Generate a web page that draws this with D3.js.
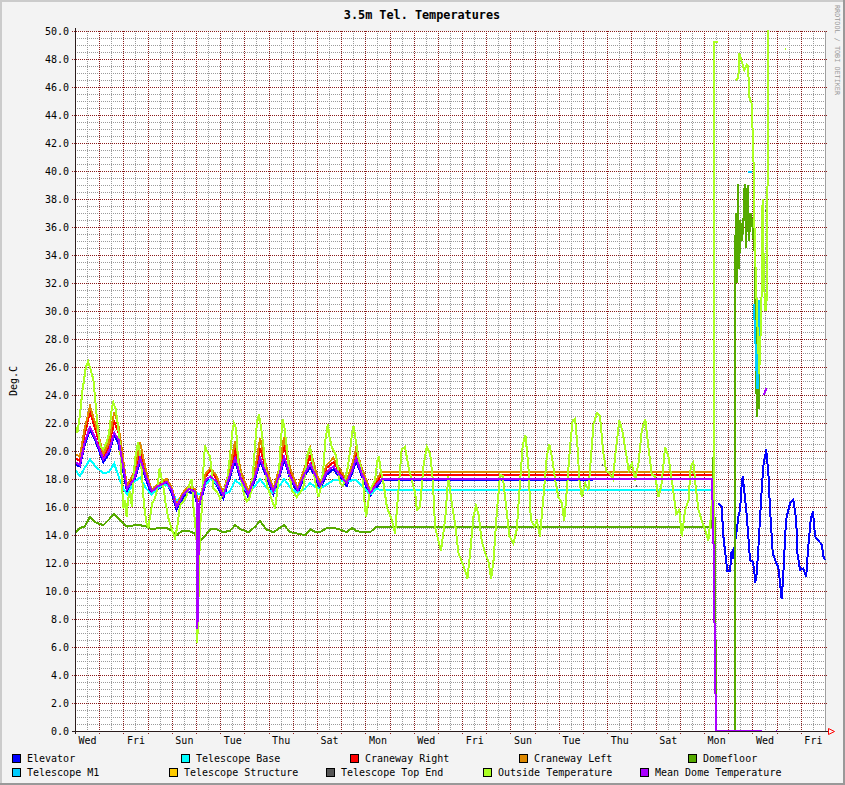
<!DOCTYPE html>
<html><head><meta charset="utf-8">
<script src="https://cdn.jsdelivr.net/npm/d3@7/dist/d3.min.js"></script>
<style>
html,body{margin:0;padding:0;background:#f3f3f3;}
svg{display:block;}
text{font-family:"DejaVu Sans Mono",monospace;}
</style></head>
<body>
<svg id="chart" width="845" height="785"></svg>
<script>
// ---------- DATA ----------
const chartTitle = "3.5m Tel. Temperatures";
const yAxisTitle = "Deg.C";
const watermark = "RRDTOOL / TOBI OETIKER";
const dayLabels = ["Wed","Fri","Sun","Tue","Thu","Sat","Mon","Wed","Fri","Sun","Tue","Thu","Sat","Mon","Wed","Fri"];
const labelDays = [0,2,4,6,8,10,12,14,16,18,20,22,24,26,28,30];
const yTickValues = [0,2,4,6,8,10,12,14,16,18,20,22,24,26,28,30,32,34,36,38,40,42,44,46,48,50];

// shared time stamps (days since start) for the indoor sensors
const tIndoor = [0,0.2,0.4,0.62,0.85,1.17,1.4,1.62,1.8,2.0,2.15,2.45,2.69,2.95,3.17,3.45,3.79,4.0,4.2,4.45,4.7,4.95,5.03,5.06,5.1,5.14,5.2,5.4,5.6,5.85,6.13,6.4,6.62,6.85,7.17,7.45,7.65,7.9,8.2,8.45,8.64,8.9,9.2,9.5,9.72,9.95,10.13,10.4,10.68,10.95,11.23,11.45,11.62,11.85,12.2,12.47,12.68,26.33];

const elevatorV = [19.0,18.9,20.4,21.5,20.7,19.2,19.8,21.1,20.5,18.5,17.1,17.8,19.3,17.9,16.9,17.3,17.7,17.0,15.8,16.6,17.1,16.9,16.3,16.2,16.1,16.1,16.4,17.7,18.0,17.6,16.6,18.1,19.3,17.9,16.7,18.0,19.3,18.2,16.9,18.1,19.4,18.0,17.0,18.2,18.9,18.0,17.3,18.3,18.7,18.1,17.5,18.4,19.3,18.2,16.8,17.4,17.9,18.0];
const elevatorTail = [[null,null],[26.59,16.3],[26.73,16.0],[26.80,13.9],[26.91,12.2],[26.97,11.4],[27.08,11.4],[27.12,12.7],[27.19,12.9],[27.21,12.3],[27.28,13.4],[27.42,15.3],[27.49,15.8],[27.56,17.7],[27.60,18.2],[27.66,17.2],[27.77,15.3],[27.83,13.9],[27.90,12.2],[28.02,12.1],[28.08,11.3],[28.12,10.6],[28.18,11.3],[28.25,13.2],[28.35,16.3],[28.45,18.9],[28.57,20.1],[28.66,18.4],[28.73,15.8],[28.84,12.7],[28.98,12.0],[29.07,11.7],[29.14,10.6],[29.21,9.4],[29.28,11.3],[29.39,15.1],[29.56,16.3],[29.69,16.5],[29.81,15.1],[29.86,12.7],[29.97,11.5],[30.11,11.6],[30.22,11.0],[30.31,13.2],[30.41,15.1],[30.50,15.7],[30.59,13.9],[30.73,13.6],[30.87,13.3],[30.93,12.5],[31.0,12.2]];

const telescopeBaseV = [18.7,18.2,18.8,19.4,18.9,18.4,18.5,19.1,18.2,17.3,16.9,17.8,18.1,17.3,16.9,17.4,17.6,17.2,16.4,16.8,17.3,17.1,17.0,16.9,16.9,16.9,16.9,17.6,18.0,17.7,16.9,17.1,17.9,17.6,17.0,17.5,18.0,17.4,17.0,17.5,18.0,17.4,17.0,17.3,17.7,17.4,17.3,17.6,17.9,17.9,17.8,17.9,17.9,17.5,16.9,17.3,17.2,17.2];

const cranewayRightV = [19.5,19.3,21.2,22.8,21.5,19.6,20.3,22.1,21.3,19.0,17.4,18.3,20.0,18.3,17.1,17.6,17.9,17.3,16.1,16.9,17.4,17.2,16.7,16.5,16.4,16.4,16.7,18.2,18.6,18.0,16.9,18.6,20.0,18.4,17.0,18.5,20.2,18.7,17.2,18.6,20.5,18.5,17.3,18.6,19.6,18.4,17.6,18.8,19.2,18.5,17.8,18.8,19.7,18.6,17.1,17.8,18.3,18.3];

const cranewayLeftV = [19.8,19.6,21.6,23.2,21.9,19.8,20.6,22.8,21.8,19.3,17.5,18.5,20.6,18.5,17.2,17.7,18.0,17.4,16.1,17.0,17.5,17.3,16.8,16.6,16.5,16.5,16.8,18.4,18.8,18.2,17.0,18.8,20.7,18.6,17.1,18.7,20.9,18.9,17.3,18.8,21.0,18.7,17.4,18.8,20.2,18.6,17.7,19.0,19.5,18.7,17.9,19.0,20.2,18.8,17.2,18.0,18.5,18.5];

const domefloorV = [14.1,14.5,14.6,15.3,14.9,14.7,15.1,15.5,15.2,14.8,14.6,14.7,14.7,14.6,14.4,14.5,14.5,14.3,14.0,14.3,14.3,14.1,14.0,13.8,13.6,13.5,13.6,14.0,14.4,14.4,14.2,14.3,14.7,14.4,14.2,14.6,15.0,14.4,14.2,14.5,14.7,14.2,14.1,14.0,14.4,14.2,14.2,14.5,14.5,14.4,14.2,14.5,14.3,14.2,14.2,14.6,14.6,14.6];
const domefloorTail = [[26.40,20.2],[26.45,12.8],[26.50,0],[27.27,0],[27.29,33.3],[27.31,37.0],[27.35,32.0],[27.40,39.1],[27.45,33.0],[27.50,36.5],[27.56,35.0],[27.62,36.0],[27.68,39.1],[27.74,34.5],[27.80,39.0],[27.86,35.0],[27.92,37.0],[27.98,36.5],[28.10,34.0],[28.15,27.0],[28.18,22.4],[28.21,25.0],[28.25,30.0],[28.28,23.0]];

const telescopeM1 = [[26.37,39.8],[26.42,39.8],[null,null],[27.82,39.9],[27.98,39.9],[null,null],[28.06,30.5],[28.12,28.0],[28.16,26.0],[28.21,24.4],[28.24,26.5],[28.27,30.8]];

const telescopeStructure = [];

const telescopeTopEnd = [[21.79,19.0],[21.83,19.0],[null,null],[23.20,17.5],[23.24,17.5],[null,null],[28.58,37.2],[28.60,36.4]];

const outsideTemp = [[0,21.8],[0.1,21.3],[0.2,22.5],[0.3,24.2],[0.45,26.0],[0.54,26.4],[0.65,25.8],[0.76,25.1],[0.85,23.4],[0.92,22.0],[1.03,20.4],[1.17,20.1],[1.3,20.6],[1.4,21.2],[1.52,23.0],[1.58,23.5],[1.68,23.0],[1.75,22.2],[1.86,20.4],[1.93,18.0],[2.0,15.9],[2.08,16.5],[2.13,15.3],[2.2,16.6],[2.27,17.1],[2.35,16.0],[2.42,18.3],[2.5,19.6],[2.6,20.6],[2.66,20.2],[2.75,18.7],[2.85,16.2],[2.95,14.9],[3.03,14.5],[3.12,15.5],[3.2,16.3],[3.3,16.6],[3.4,17.3],[3.5,18.8],[3.56,18.2],[3.65,17.5],[3.75,16.2],[3.86,15.2],[4.0,14.4],[4.13,13.8],[4.22,14.5],[4.34,16.1],[4.48,16.4],[4.61,16.8],[4.72,17.6],[4.82,18.0],[4.9,16.0],[4.96,14.9],[5.03,13.5],[5.06,6.3],[5.09,11.0],[5.12,9.6],[5.16,14.5],[5.23,15.6],[5.3,18.5],[5.37,20.4],[5.45,20.0],[5.58,19.6],[5.66,18.5],[5.72,17.3],[5.86,17.1],[6.0,16.6],[6.1,16.8],[6.2,17.3],[6.3,18.0],[6.4,19.6],[6.5,21.3],[6.57,22.0],[6.66,21.6],[6.75,19.1],[6.89,17.7],[7.0,16.8],[7.1,16.4],[7.2,16.6],[7.3,17.2],[7.44,20.3],[7.52,22.0],[7.6,22.6],[7.68,21.8],[7.79,20.3],[7.93,17.5],[8.05,17.0],[8.13,16.5],[8.27,15.9],[8.41,17.9],[8.5,20.5],[8.58,22.3],[8.65,21.8],[8.75,20.3],[8.85,18.5],[8.96,17.2],[9.16,16.7],[9.3,17.0],[9.44,17.4],[9.58,19.6],[9.72,20.3],[9.82,19.2],[9.92,17.9],[10.06,16.7],[10.18,17.5],[10.27,18.9],[10.35,20.8],[10.45,21.9],[10.52,21.0],[10.61,20.3],[10.72,19.9],[10.79,19.7],[10.88,18.5],[10.96,17.7],[11.06,17.5],[11.16,17.9],[11.25,18.6],[11.34,19.6],[11.45,21.2],[11.51,21.8],[11.6,20.8],[11.71,19.6],[11.8,18.9],[11.89,18.2],[11.96,16.5],[12.03,15.3],[12.12,16.4],[12.2,17.2],[12.3,17.6],[12.4,17.9],[12.5,19.3],[12.56,19.6],[12.62,18.8],[12.75,17.7],[12.89,16.0],[13.09,15.1],[13.23,14.1],[13.37,17.2],[13.5,20.1],[13.64,20.3],[13.78,18.9],[13.92,17.9],[14.06,17.0],[14.13,15.8],[14.26,16.0],[14.4,18.9],[14.54,20.3],[14.68,19.8],[14.79,17.9],[14.88,14.6],[15.02,13.6],[15.13,12.9],[15.3,15.1],[15.43,18.2],[15.57,16.3],[15.71,14.8],[15.85,12.7],[15.99,12.1],[16.12,11.5],[16.22,10.9],[16.33,12.7],[16.47,15.3],[16.57,16.1],[16.68,15.5],[16.81,13.6],[16.95,12.7],[17.09,12.1],[17.2,10.9],[17.3,12.2],[17.43,15.5],[17.57,18.3],[17.68,18.2],[17.82,16.0],[17.96,13.9],[18.12,13.4],[18.26,14.4],[18.4,17.9],[18.51,20.5],[18.62,21.1],[18.74,18.9],[18.84,15.1],[18.98,14.6],[19.09,15.0],[19.22,13.9],[19.36,16.7],[19.5,19.6],[19.6,20.5],[19.71,19.6],[19.85,17.9],[19.98,16.7],[20.12,16.3],[20.22,15.0],[20.33,17.2],[20.46,20.3],[20.57,22.2],[20.67,22.3],[20.77,20.3],[20.85,17.9],[20.95,16.7],[21.09,17.7],[21.22,17.2],[21.33,19.6],[21.43,21.9],[21.57,22.7],[21.7,22.5],[21.82,20.1],[21.95,18.6],[22.09,18.4],[22.23,18.0],[22.37,20.3],[22.5,22.2],[22.64,21.3],[22.78,19.8],[22.88,18.6],[23.02,19.1],[23.15,17.9],[23.29,19.1],[23.43,21.5],[23.57,22.3],[23.7,20.3],[23.84,18.3],[23.98,18.2],[24.12,16.7],[24.25,17.7],[24.39,20.3],[24.53,19.6],[24.67,17.9],[24.85,15.5],[24.98,15.8],[25.08,13.9],[25.22,15.8],[25.36,16.5],[25.45,18.9],[25.56,19.2],[25.67,17.2],[25.77,15.8],[25.91,15.0],[26.04,14.4],[26.18,13.6],[26.28,15.3],[26.36,17.4],[26.40,13.6],[26.43,49.2],[26.58,49.2],[null,null],[27.31,46.5],[27.42,46.7],[27.46,48.4],[27.56,47.8],[27.66,47.2],[27.77,47.6],[27.82,47.5],[27.87,45.3],[27.97,44.8],[28.04,41.3],[28.08,36.5],[28.11,34.1],[28.18,30.3],[28.25,27.0],[28.28,25.5],[28.37,30.0],[28.42,38.0],[28.48,32.0],[28.54,30.0],[28.60,31.0],[28.64,44.0],[28.67,52.0],[null,null],[29.33,48.7],[29.37,48.7]];

const meanDomeV = [19.2,19.0,20.6,21.7,20.9,19.4,20.0,21.3,20.8,18.8,17.3,18.0,19.5,18.1,17.1,17.5,17.8,17.2,16.0,16.8,17.3,17.1,16.5,7.3,12.0,16.2,16.6,17.9,18.2,17.8,16.8,18.3,19.5,18.1,16.9,18.2,19.5,18.4,17.1,18.3,19.6,18.2,17.2,18.4,19.1,18.2,17.5,18.5,18.9,18.3,17.7,18.6,19.5,18.4,17.0,17.6,18.0,18.0];
const meanDomeTail = [[26.40,12.8],[26.45,5.2],[26.50,0],[28.40,0],[null,null],[28.47,24.0],[28.58,24.5],[null,null],[28.96,0],[29.02,0]];

const seriesNames = ["Elevator","Telescope Base","Craneway Right","Craneway Left","Domefloor","Telescope M1","Telescope Structure","Telescope Top End","Outside Temperature","Mean Dome Temperature"];
const seriesColors = ["#0000ff","#00ffff","#ff0000","#dd8800","#55aa00","#00ccff","#ffcc00","#555555","#aaff22","#aa00ff"];

// ---------- BUILD ----------
const zipT = (vals) => tIndoor.map((t,i) => [t, vals[i]]);
const seriesData = [
  zipT(elevatorV).concat(elevatorTail),
  zipT(telescopeBaseV),
  zipT(cranewayRightV),
  zipT(cranewayLeftV),
  zipT(domefloorV).concat(domefloorTail),
  telescopeM1,
  telescopeStructure,
  telescopeTopEnd,
  outsideTemp,
  zipT(meanDomeV).concat(meanDomeTail)
];

const W = 845, H = 785;
const PL = 75, PR = 825, PT = 31, PB = 731;
const svg = d3.select("#chart");
const x = d3.scaleLinear().domain([0,31]).range([PL,PR]);
const y = d3.scaleLinear().domain([0,50]).range([PB,PT]);
const px = v => Math.round(v) + 0.5;

// background + shading border
svg.append("rect").attr("x",0).attr("y",0).attr("width",W).attr("height",H).attr("fill","#f3f3f3");
svg.append("rect").attr("x",0).attr("y",0).attr("width",W).attr("height",2).attr("fill","#cbcbcb");
svg.append("rect").attr("x",0).attr("y",0).attr("width",2).attr("height",H).attr("fill","#cbcbcb");
svg.append("rect").attr("x",0).attr("y",H-2).attr("width",W).attr("height",2).attr("fill","#999999");
svg.append("rect").attr("x",W-2).attr("y",0).attr("width",2).attr("height",H).attr("fill","#999999");

// canvas
svg.append("rect").attr("x",PL).attr("y",PT).attr("width",PR-PL).attr("height",PB-PT).attr("fill","#ffffff");

// grid
const grid = svg.append("g").attr("shape-rendering","crispEdges");
const minorX = d3.range(0.5,31,1);
const majorX = d3.range(0,31,1);
const minorY = d3.range(0,50.01,0.5).filter(v => Math.abs(v/2 - Math.round(v/2)) > 1e-6);
const majorY = d3.range(0,50.01,2);
grid.selectAll(".mnx").data(minorX).join("line")
  .attr("x1",d=>px(x(d))).attr("x2",d=>px(x(d))).attr("y1",PT).attr("y2",PB)
  .attr("stroke","#9a9a9a").attr("stroke-dasharray","1,1");
grid.selectAll(".mny").data(minorY).join("line")
  .attr("y1",d=>px(y(d))).attr("y2",d=>px(y(d))).attr("x1",PL).attr("x2",PR)
  .attr("stroke","#9a9a9a").attr("stroke-dasharray","1,1");
grid.selectAll(".mjx").data(majorX).join("line")
  .attr("x1",d=>px(x(d))).attr("x2",d=>px(x(d))).attr("y1",PT).attr("y2",PB+3)
  .attr("stroke","#8b1a1a").attr("stroke-dasharray","1,1");
grid.selectAll(".mjy").data(majorY).join("line")
  .attr("y1",d=>px(y(d))).attr("y2",d=>px(y(d))).attr("x1",PL-3).attr("x2",PR+3)
  .attr("stroke","#8b1a1a").attr("stroke-dasharray","1,1");
grid.append("line").attr("x1",px(PR)).attr("x2",px(PR)).attr("y1",PT).attr("y2",PB).attr("stroke","#a0a0a0");

// data lines
svg.append("clipPath").attr("id","clip").append("rect").attr("x",PL).attr("y",PT-1).attr("width",PR-PL+1).attr("height",PB-PT+1);
const line = d3.line()
  .defined(d => d[0] != null && d[1] != null)
  .x(d => x(d[0])).y(d => y(d[1]));
const lines = svg.append("g").attr("clip-path","url(#clip)");
seriesData.forEach((data,i) => {
  lines.append("path").datum(data)
    .attr("d", line)
    .attr("fill","none")
    .attr("stroke", seriesColors[i])
    .attr("stroke-width", 2)
    .attr("stroke-linejoin","miter")
    .attr("shape-rendering","crispEdges");
});

// axes lines
svg.append("line").attr("x1",PL-3).attr("x2",PR+4).attr("y1",px(PB)).attr("y2",px(PB))
  .attr("stroke","#2a1c1c").attr("shape-rendering","crispEdges");
svg.append("line").attr("x1",px(PL)).attr("x2",px(PL)).attr("y1",PT-3).attr("y2",PB+3)
  .attr("stroke","#2a1c1c").attr("shape-rendering","crispEdges");
svg.append("path").attr("d",`M${PR+3.5},${PB-2.5} L${PR+9.5},${PB+0.5} L${PR+3.5},${PB+3.5} Z`)
  .attr("fill","none").attr("stroke","#ff0000");

// tick labels via d3 axes
const xAxis = d3.axisBottom(x).tickValues(labelDays.map(d => d + 0.5))
  .tickFormat((d,i) => dayLabels[i]).tickSize(0).tickPadding(6);
const gx = svg.append("g").attr("transform",`translate(0,${PB})`).call(xAxis);
gx.select(".domain").remove();
gx.selectAll("text").attr("font-family","DejaVu Sans Mono").attr("font-size",10).attr("fill","#000");

const yAxis = d3.axisLeft(y).tickValues(yTickValues).tickFormat(d3.format(".1f")).tickSize(0).tickPadding(6);
const gy = svg.append("g").attr("transform",`translate(${PL},0)`).call(yAxis);
gy.select(".domain").remove();
gy.selectAll("text").attr("font-family","DejaVu Sans Mono").attr("font-size",10).attr("fill","#000");

// title & labels
svg.append("text").attr("x",422).attr("y",19).attr("text-anchor","middle")
  .attr("font-size",11.8).attr("font-weight","bold").attr("fill","#000").text(chartTitle);
svg.append("text").attr("transform",`translate(17,${(PT+PB)/2}) rotate(-90)`).attr("text-anchor","middle")
  .attr("font-size",10).attr("fill","#000").text(yAxisTitle);
svg.append("text").attr("transform","translate(835,5) rotate(90)").attr("text-anchor","start")
  .attr("font-size",6.8).attr("fill","#999999").text(watermark);

// legend
const legendPos = [
  [12,754],[181,754],[350,754],[519,754],[688,754],
  [12,768],[169,768],[326,768],[483,768],[640,768]
];
const lg = svg.append("g");
seriesNames.forEach((name,i) => {
  const [lx,ly] = legendPos[i];
  lg.append("rect").attr("x",lx+0.5).attr("y",ly+0.5).attr("width",8).attr("height",8)
    .attr("fill",seriesColors[i]).attr("stroke","#000").attr("shape-rendering","crispEdges");
  lg.append("text").attr("x",lx+15).attr("y",ly+8).attr("font-size",10).attr("fill","#000")
    .attr("xml:space","preserve").text(name);
});
</script>
</body></html>
